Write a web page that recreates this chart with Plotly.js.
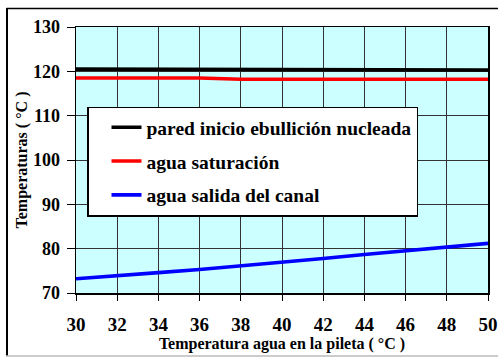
<!DOCTYPE html>
<html>
<head>
<meta charset="utf-8">
<script src="https://cdn.plot.ly/plotly-3.0.1.min.js"></script>
<style>
  html, body { margin: 0; padding: 0; background: #ffffff; }
  #chart { width: 498px; height: 358px; }
</style>
</head>
<body>
<div id="chart"></div>
<script>
// Temperatura del agua en la pileta (°C)
const poolTemp = [30, 32, 34, 36, 38, 40, 42, 44, 46, 48, 50];

// Temperatura de pared al inicio de la ebullición nucleada (°C)
const wallOnset = [120.5, 120.5, 120.5, 120.5, 120.5, 120.5, 120.5, 120.5, 120.3, 120.3, 120.3];
// Temperatura de saturación del agua (°C)
const waterSat = [118.5, 118.5, 118.5, 118.5, 118.2, 118.2, 118.2, 118.2, 118.2, 118.2, 118.2];
// Temperatura del agua a la salida del canal (°C)
const channelOut = [73.2, 74.0, 74.6, 75.3, 76.1, 76.9, 77.8, 78.7, 79.6, 80.4, 81.2];

const seriesNames = [
  'pared inicio ebullición nucleada',
  'agua saturación',
  'agua salida del canal'
];

const xTicks = [30, 32, 34, 36, 38, 40, 42, 44, 46, 48, 50];
const yTicks = [70, 80, 90, 100, 110, 120, 130];

const serif = '"Liberation Serif", "Times New Roman", Times, serif';

const traces = [
  { x: poolTemp, y: wallOnset, name: seriesNames[0], legendgroup: 'a',
    mode: 'lines', line: { color: '#000000', width: 3.6 } },
  { x: poolTemp, y: waterSat, name: seriesNames[1], legendgroup: 'b',
    mode: 'lines', line: { color: '#ff0000', width: 3.4 } },
  { x: poolTemp, y: channelOut, name: seriesNames[2], legendgroup: 'c',
    mode: 'lines', line: { color: '#0000ff', width: 3.6 } }
];

// outer frame of the chart area (paper coordinates relative to the plot box)
const L = 76, T = 27, W = 412, H = 266;
const px = v => (v - L) / W;
const py = v => (T + H - v) / H;

const layout = {
  width: 498,
  height: 358,
  margin: { l: L, r: 498 - L - W, t: T, b: 358 - T - H, pad: 0 },
  paper_bgcolor: '#ffffff',
  plot_bgcolor: '#ccffff',
  font: { family: serif, color: '#000000' },
  showlegend: true,
  legend: {
    x: px(87), y: py(106.5), xanchor: 'left', yanchor: 'top',
    bgcolor: '#ffffff', bordercolor: '#000000', borderwidth: 1.5,
    font: { family: serif, size: 19.5, color: '#000000', weight: 'bold' },
    tracegroupgap: 5.5, traceorder: 'grouped', indentation: 18
  },
  xaxis: {
    range: [30, 50], tickvals: xTicks, ticktext: xTicks.map(String),
    showgrid: true, gridcolor: '#333333', gridwidth: 1,
    zeroline: false, showline: true, linecolor: '#000000', linewidth: 1.5, mirror: true,
    ticks: 'outside', ticklen: 6, tickcolor: '#000000', tickwidth: 1,
    ticklabelstandoff: 8,
    tickfont: { family: serif, size: 19, color: '#000000', weight: 'bold' },
    title: { text: 'Temperatura agua en la pileta ( °C )', standoff: 0,
             font: { family: serif, size: 16, color: '#000000', weight: 'bold' } },
    automargin: false, fixedrange: true
  },
  yaxis: {
    range: [70, 130], tickvals: yTicks, ticktext: yTicks.map(String),
    showgrid: true, gridcolor: '#333333', gridwidth: 1,
    zeroline: false, showline: true, linecolor: '#000000', linewidth: 1.5, mirror: true,
    ticks: 'outside', ticklen: 8, tickcolor: '#000000', tickwidth: 1,
    ticklabelstandoff: 3,
    tickfont: { family: serif, size: 18, color: '#000000', weight: 'bold' },
    title: { text: 'Temperaturas ( °C )', standoff: 1,
             font: { family: serif, size: 16, color: '#000000', weight: 'bold' } },
    automargin: false, fixedrange: true
  },
  shapes: [
    { type: 'line', xref: 'paper', yref: 'paper', x0: px(6.5), x1: px(500), y0: py(8.5), y1: py(8.5),
      line: { color: '#000000', width: 1.5 } },
    { type: 'line', xref: 'paper', yref: 'paper', x0: px(7), x1: px(7), y0: py(8), y1: py(356),
      line: { color: '#000000', width: 2 } },
    { type: 'line', xref: 'paper', yref: 'paper', x0: px(6), x1: px(500), y0: py(356), y1: py(356),
      line: { color: '#bbbbbb', width: 1.5 } }
  ]
};

Plotly.newPlot('chart', traces, layout, { displayModeBar: false, staticPlot: true });
</script>
</body>
</html>
